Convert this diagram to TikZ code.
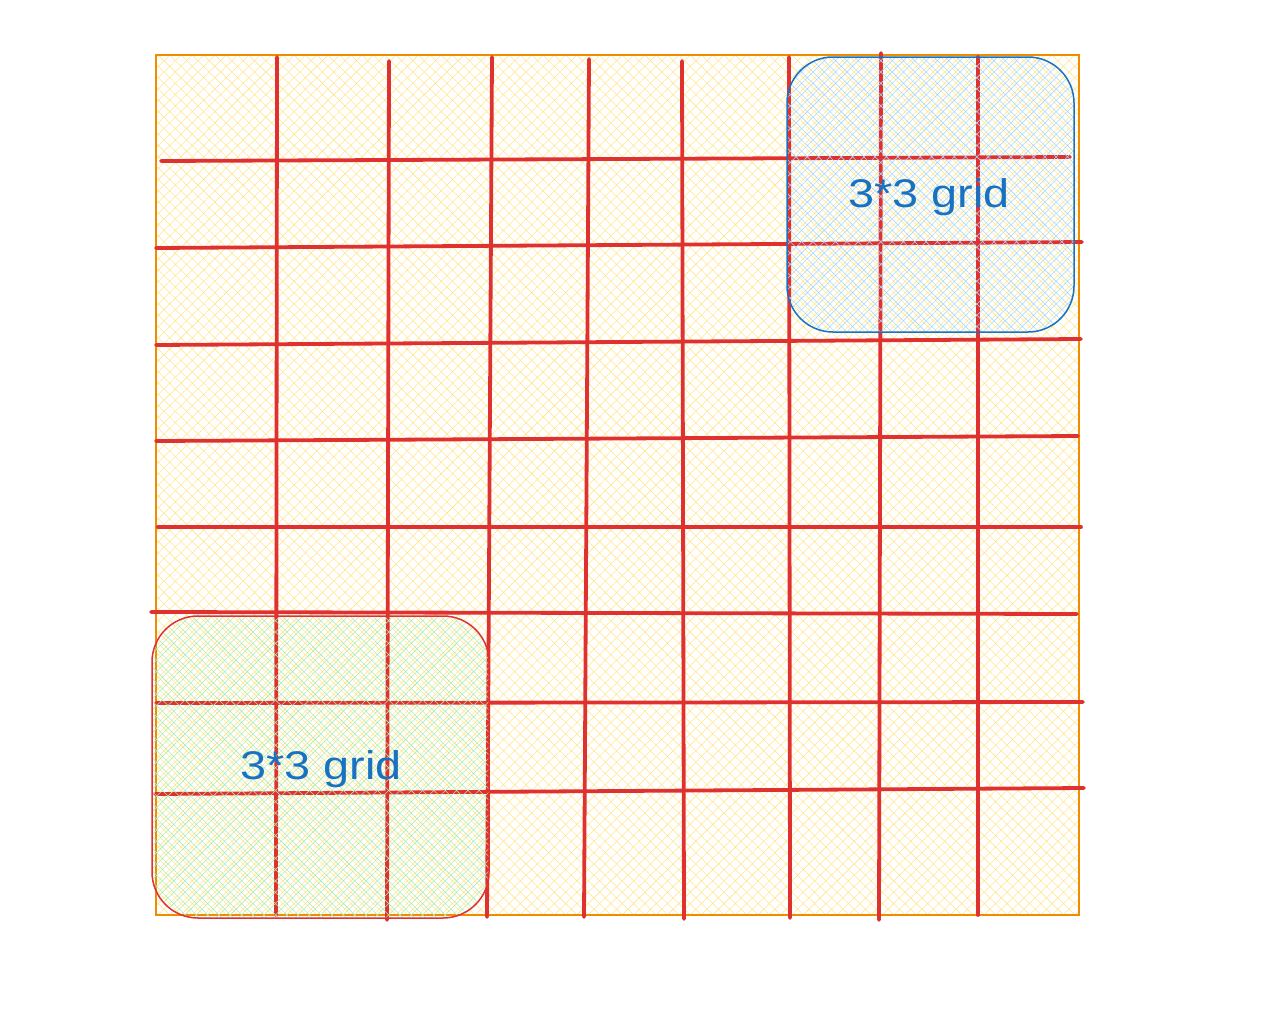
\documentclass[tikz,border=0pt]{standalone}
\usepackage{fontspec}
\setmainfont{Liberation Sans}
\usetikzlibrary{patterns.meta}
\definecolor{ygrid}{HTML}{FFE58A}
\definecolor{oborder}{HTML}{F08C00}
\definecolor{redl}{HTML}{E03131}
\definecolor{bluel}{HTML}{1971C2}
\definecolor{bluefill}{HTML}{A5D8FF}
\definecolor{greenfill}{HTML}{A9EDB3}
\tikzset{
  redline/.style={draw=redl, line width=3.8pt, line cap=round},
  hatchy/.style={pattern={Hatch[angle=45,distance=8pt,line width=0.55pt]}, pattern color=ygrid},
  hatchb/.style={pattern={Hatch[angle=45,distance=8pt,line width=0.55pt, xshift=4pt]}, pattern color=bluefill},
  hatchg/.style={pattern={Hatch[angle=45,distance=8pt,line width=0.55pt, xshift=4pt]}, pattern color=greenfill},
  lbl/.style={text=bluel, font=\fontsize{40}{46}\selectfont, anchor=base, inner sep=0pt}
}
\begin{document}
\begin{tikzpicture}[x=1pt,y=-1pt]
\useasboundingbox (0,0) rectangle (1280,1028);
% background
\fill[hatchy] (156,55) rectangle (1079,915);
\draw[oborder, line width=1.6pt] (156,55) rectangle (1079,915);
% vertical red lines
\draw[redline] (277,57) -- (276,915);
\draw[redline] (389,61) -- (387,920);
\draw[redline] (492,57) -- (487,917);
\draw[redline] (589,59) -- (584,917);
\draw[redline] (682,61) -- (684,919);
\draw[redline] (789,57) -- (790,918);
\draw[redline] (881,53) -- (879,920);
\draw[redline] (978,57) -- (978,915);
% horizontal red lines
\draw[redline] (161,161) -- (1070,157);
\draw[redline] (156,248) -- (1082,242);
\draw[redline] (156,345) -- (1081,339);
\draw[redline] (156,441) -- (1078,436);
\draw[redline] (158,527) -- (1081,527);
\draw[redline] (151,612) -- (1077,614);
\draw[redline] (156,703) -- (1083,702);
\draw[redline] (155,794) -- (1084,788);
% blue box
\fill[hatchb, rounded corners=46pt] (787,57) rectangle (1074,332);
\draw[bluel, line width=1.5pt, rounded corners=46pt] (787,57) rectangle (1074,332);
\node[lbl] (tb) at (929,207) {\scalebox{1.17}[1]{3*3 grid}};
% green box
\fill[hatchg, rounded corners=46pt] (152,616) rectangle (489,918);
\draw[redl, line width=1.5pt, rounded corners=46pt] (152,616) rectangle (489,918);
\node[lbl] (tg) at (321,779) {\scalebox{1.17}[1]{3*3 grid}};
\end{tikzpicture}
\end{document}
